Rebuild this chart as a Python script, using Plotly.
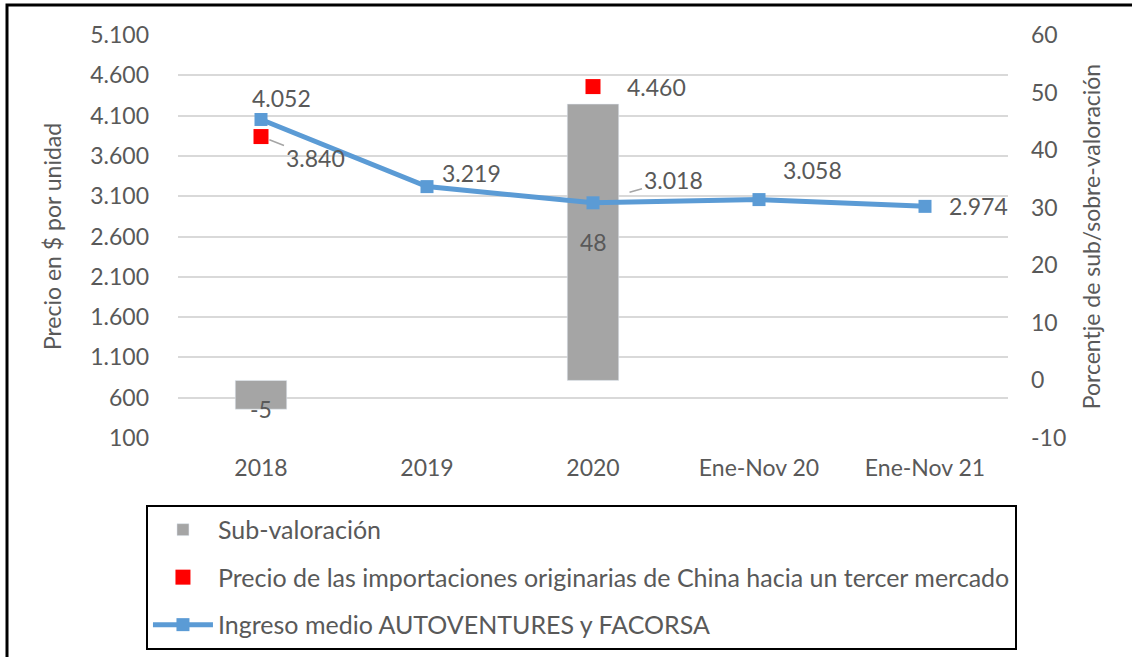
import plotly.graph_objects as go

categories = ["2018", "2019", "2020", "Ene-Nov 20", "Ene-Nov 21"]
subvaloracion = [-5, None, 48, None, None]
precio_china = [3840, None, 4460, None, None]
ingreso_medio = [4052, 3219, 3018, 3058, 2974]

left_ticks = [100, 600, 1100, 1600, 2100, 2600, 3100, 3600, 4100, 4600, 5100]
right_ticks = [-10, 0, 10, 20, 30, 40, 50, 60]

FONT = "Lato"
TXT = "#595959"
FS = 23

fig = go.Figure()

fig.add_trace(go.Bar(
    x=categories, y=subvaloracion, name="Sub-valoración",
    marker=dict(color="#A5A5A5"), width=0.31, yaxis="y",
    legendgroup="a",
))
fig.add_trace(go.Scatter(
    x=categories, y=precio_china, name="Precio de las importaciones originarias de China hacia un tercer mercado",
    mode="markers", marker=dict(color="#FF0000", symbol="square", size=15),
    yaxis="y2", legendgroup="b",
))
fig.add_trace(go.Scatter(
    x=categories, y=ingreso_medio, name="Ingreso medio AUTOVENTURES y FACORSA",
    mode="lines+markers", line=dict(color="#5B9BD5", width=5),
    marker=dict(color="#5B9BD5", symbol="square", size=13),
    yaxis="y2", legendgroup="c",
))

def fmt(v):
    return f"{v:,}".replace(",", ".")

annotations = []
# line labels (pixel offsets are styling)
line_offsets = [(20, -21), (44, -14), (80, -23), (53, -30), (53, 0)]
for i, (c, v, (dx, dy)) in enumerate(zip(categories, ingreso_medio, line_offsets)):
    arrow = c == "2020"
    annotations.append(dict(
        x=i, y=v, xref="x", yref="y2", text=fmt(v),
        showarrow=arrow, ax=dx, ay=dy,
        xshift=0 if arrow else dx, yshift=0 if arrow else -dy,
        arrowhead=0, arrowcolor="#A5A5A5", arrowwidth=1.5, standoff=38,
        font=dict(family=FONT, size=FS, color=TXT),
    ))
china_offsets = {"2018": (54, 21), "2020": (63, 0)}
for i, (c, v) in enumerate(zip(categories, precio_china)):
    if v is None:
        continue
    dx, dy = china_offsets[c]
    arrow = c == "2018"
    annotations.append(dict(
        x=i, y=v, xref="x", yref="y2", text=fmt(v),
        showarrow=arrow, ax=dx, ay=dy,
        xshift=0 if arrow else dx, yshift=0 if arrow else -dy,
        arrowhead=0, arrowcolor="#A5A5A5", arrowwidth=1.5, standoff=9,
        font=dict(family=FONT, size=FS, color=TXT),
    ))
for i, (c, v) in enumerate(zip(categories, subvaloracion)):
    if v is None:
        continue
    ypos = v / 2 if abs(v) > 10 else v
    annotations.append(dict(
        x=i, y=ypos, xref="x", yref="y", text=str(v), showarrow=False,
        font=dict(family=FONT, size=FS, color=TXT),
    ))

fig.update_layout(
    width=1132, height=657,
    margin=dict(l=178, r=124, t=35, b=219, autoexpand=False),
    paper_bgcolor="white", plot_bgcolor="white",
    separators=",.",
    font=dict(family=FONT, size=FS, color=TXT),
    showlegend=True,
    legend=dict(
        x=-0.0386, y=-0.166, xanchor="left", yanchor="top",
        orientation="v", bordercolor="black", borderwidth=2,
        font=dict(family=FONT, size=25, color=TXT),
        tracegroupgap=12, traceorder="grouped",
        itemwidth=60,
    ),
    xaxis=dict(
        type="category", range=[-0.5, 4.5], showgrid=False, zeroline=False, showline=False,
        ticks="", tickfont=dict(family=FONT, size=FS, color=TXT),
        ticklabelstandoff=14, automargin=False,
    ),
    yaxis=dict(
        side="right", range=[-10, 60], tickvals=right_ticks,
        ticktext=[str(t) for t in right_ticks],
        showgrid=False, zeroline=False, showline=False, automargin=False,
        tickfont=dict(family=FONT, size=FS, color=TXT),
        title=dict(text="Porcentje de sub/sobre-valoración", standoff=18,
                   font=dict(family=FONT, size=FS, color=TXT)),
        ticklabelstandoff=22,
    ),
    yaxis2=dict(
        side="left", overlaying="y", range=[100, 5100], tickvals=left_ticks,
        tickformat=",", showgrid=True, gridcolor="#D9D9D9", gridwidth=2,
        zeroline=False, showline=False, automargin=False,
        tickfont=dict(family=FONT, size=FS, color=TXT),
        title=dict(text="Precio en $ por unidad", standoff=22,
                   font=dict(family=FONT, size=FS, color=TXT)),
        ticklabelstandoff=28,
    ),
    annotations=annotations,
    shapes=[dict(type="rect", xref="paper", yref="paper",
                 x0=(7 - 178) / 830, x1=(1145 - 178) / 830,
                 y0=(438 - 670) / 403, y1=(438 - 5) / 403,
                 line=dict(color="black", width=3), layer="below")],
)

fig.write_html("out.html", config={"displayModeBar": False},
               post_script="document.body.style.margin='0';")
